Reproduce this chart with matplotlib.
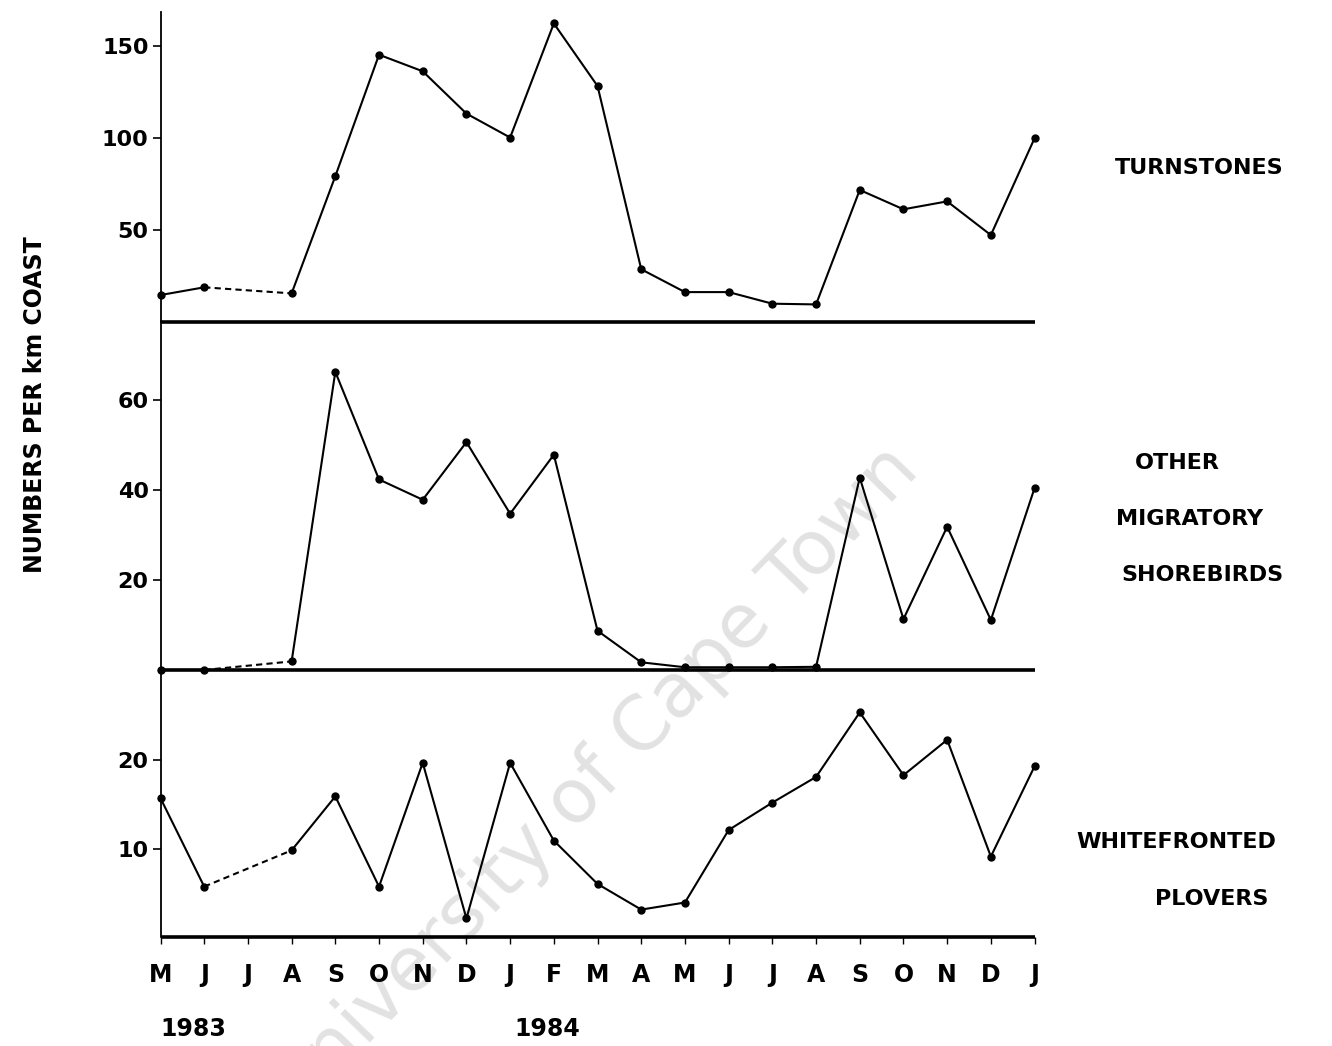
import numpy as np
import matplotlib
matplotlib.use('Agg')
import matplotlib.pyplot as plt
import matplotlib.transforms as mtransforms

# monthly counts, May 1983 - Jan 1985 (no survey in July 1983)
months = ['M', 'J', 'J', 'A', 'S', 'O', 'N', 'D', 'J', 'F', 'M',
          'A', 'M', 'J', 'J', 'A', 'S', 'O', 'N', 'D', 'J']
years = ['1983', '1984']
year_pos = [0.75, 8.85]

turnstones = [14.4, 18.6, np.nan, 15.3, 79, 145, 136, 113, 100, 162, 128,
              28.4, 16, 16, 9.7, 9.3, 71.5, 61, 65.3, 47, 99.6]
other_migrants = [0, 0, np.nan, 1.9, 66.2, 42.3, 37.8, 50.6, 34.7, 47.8, 8.7,
                  1.7, 0.6, 0.6, 0.6, 0.7, 42.7, 11.3, 31.8, 11.1, 40.4]
plovers = [15.7, 5.7, np.nan, 9.8, 15.9, 5.7, 19.7, 2.1, 19.7, 10.9, 6.0,
           3.1, 3.9, 12.1, 15.2, 18.1, 25.4, 18.3, 22.3, 9.1, 19.3]

panel_names = [['TURNSTONES'],
               ['OTHER', 'MIGRATORY', 'SHOREBIRDS'],
               ['WHITEFRONTED', 'PLOVERS']]
panel_ticks = [[50, 100, 150], [20, 40, 60], [10, 20]]
panel_ylim = [168.2, 77.4, 30.2]

plt.rcParams['font.family'] = ['DejaVu Sans']
fig = plt.figure(figsize=(13.32, 10.46), dpi=100)

# the watermark across the sheet, behind everything
fig.text(0.445, 0.252, 'University of Cape Town', fontsize=54, color='#e2e2e2',
         rotation=46, ha='center', va='center', zorder=-5)

x = np.arange(len(months))
left, width = 0.1205, 0.6562
boxes = [(0.6926, 0.2959), (0.3595, 0.3332), (0.1042, 0.2553)]
series = [turnstones, other_migrants, plovers]

axes = []
for (bottom, height), vals, ticks, top in zip(boxes, series, panel_ticks, panel_ylim):
    ax = fig.add_axes([left, bottom, width, height])
    ax.patch.set_alpha(0)
    vals = np.array(vals, dtype=float)
    ax.plot(x, vals, color='black', lw=1.5, marker='o', ms=5, clip_on=False, zorder=3)
    # gap month bridged with a dashed line
    ax.plot(x[[1, 3]], vals[[1, 3]], color='black', lw=1.5, ls=(0, (3, 2)),
            clip_on=False, zorder=3)
    ax.set_xlim(0, len(months) - 1)
    ax.set_ylim(0, top)
    ax.set_yticks(ticks)
    ax.set_yticklabels([str(t) for t in ticks], fontsize=16, fontweight='bold')
    ax.tick_params(axis='y', direction='out', length=5.5, width=1.2, pad=3)
    for s in ['top', 'right']:
        ax.spines[s].set_visible(False)
    ax.spines['left'].set_linewidth(1.3)
    ax.spines['bottom'].set_linewidth(2.6)
    ax.spines['bottom'].set_capstyle('butt')
    axes.append(ax)

for ax in axes[:2]:
    ax.set_xticks([])

ax = axes[2]
ax.set_xticks(x)
ax.set_xticklabels(months, fontsize=17, fontweight='bold')
ax.tick_params(axis='x', direction='out', length=5, width=1.0, pad=14)

trans = mtransforms.blended_transform_factory(ax.transData, fig.transFigure)
for yr, xp in zip(years, year_pos):
    ax.text(xp, 0.016, yr, transform=trans, ha='center', va='center',
            fontsize=17, fontweight='bold')

fig.text(0.026, 0.613, 'NUMBERS PER km COAST', rotation=90, ha='center',
         va='center', fontsize=17, fontweight='bold')

# species labels to the right of each panel
label_rows = [[(0.900, 0.839)],
              [(0.884, 0.557), (0.893, 0.504), (0.903, 0.450)],
              [(0.808, 0.195), (0.910, 0.141)]]
for names, rows in zip(panel_names, label_rows):
    for name, (fx, fy) in zip(names, rows):
        ha = 'left' if name == 'WHITEFRONTED' else 'center'
        fig.text(fx, fy, name, ha=ha, va='center', fontsize=16, fontweight='bold')

fig.savefig('out.png', dpi=100)
